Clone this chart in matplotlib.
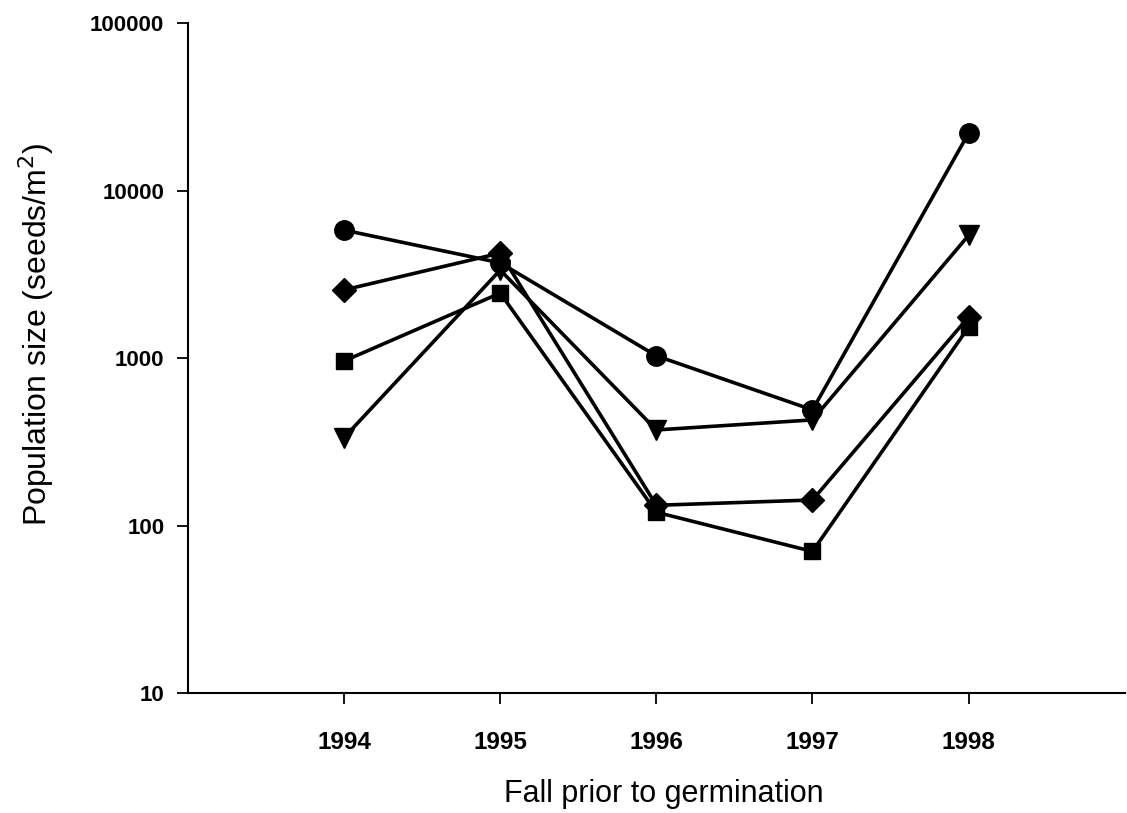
import matplotlib
matplotlib.use("Agg")
import matplotlib.pyplot as plt
from matplotlib.ticker import FixedLocator, FixedFormatter

# ---------------------------------------------------------------------------
# Data
# ---------------------------------------------------------------------------
YEARS = [1994, 1995, 1996, 1997, 1998]

POP_CIRCLE   = [5800, 3700, 1030, 490, 22000]
POP_TRIANGLE = [335, 3350, 372, 427, 5400]
POP_DIAMOND  = [2550, 4230, 132, 142, 1760]
POP_SQUARE   = [960, 2440, 120, 70, 1530]

Y_TICKS = [10, 100, 1000, 10000, 100000]
Y_TICK_LABELS = ["10", "100", "1000", "10000", "100000"]

plt.rcParams["font.family"] = ["Liberation Sans", "DejaVu Sans"]

fig = plt.figure(figsize=(11.27, 8.13), dpi=100)
ax = fig.add_axes([0.1668, 0.1476, 0.8312, 0.8241])

series = [
    (POP_CIRCLE,   "o", 14),
    (POP_TRIANGLE, "v", 14),
    (POP_DIAMOND,  "D", 12),
    (POP_SQUARE,   "s", 12),
]
for vals, marker, ms in series:
    ax.plot(YEARS, vals, color="black", linewidth=2.6, marker=marker,
            markersize=ms, markerfacecolor="black", markeredgecolor="black")

ax.set_yscale("log")
ax.set_ylim(10, 100000)
ax.set_xlim(1993, 1999)
ax.yaxis.set_major_locator(FixedLocator(Y_TICKS))
ax.yaxis.set_major_formatter(FixedFormatter(Y_TICK_LABELS))
ax.yaxis.set_minor_locator(FixedLocator([]))
ax.set_xticks(YEARS)
ax.set_xticklabels([str(y) for y in YEARS])

ax.tick_params(axis="both", direction="out", length=8, width=1.3, pad=9)
ax.tick_params(axis="y", labelsize=16)
ax.tick_params(axis="x", labelsize=17.5, pad=19)
for lab in ax.get_xticklabels() + ax.get_yticklabels():
    lab.set_fontweight("bold")

ax.spines[["top", "right"]].set_visible(False)
ax.spines["left"].set_linewidth(1.5)
ax.spines["bottom"].set_linewidth(1.5)

ax.set_xlabel("Fall prior to germination", fontsize=22)
ax.set_ylabel("Population size (seeds/m$^2$)", fontsize=23)
ax.xaxis.set_label_coords(0.508, -0.128)
ax.yaxis.set_label_coords(-0.141, 0.535)

fig.savefig("out.png", dpi=100)
